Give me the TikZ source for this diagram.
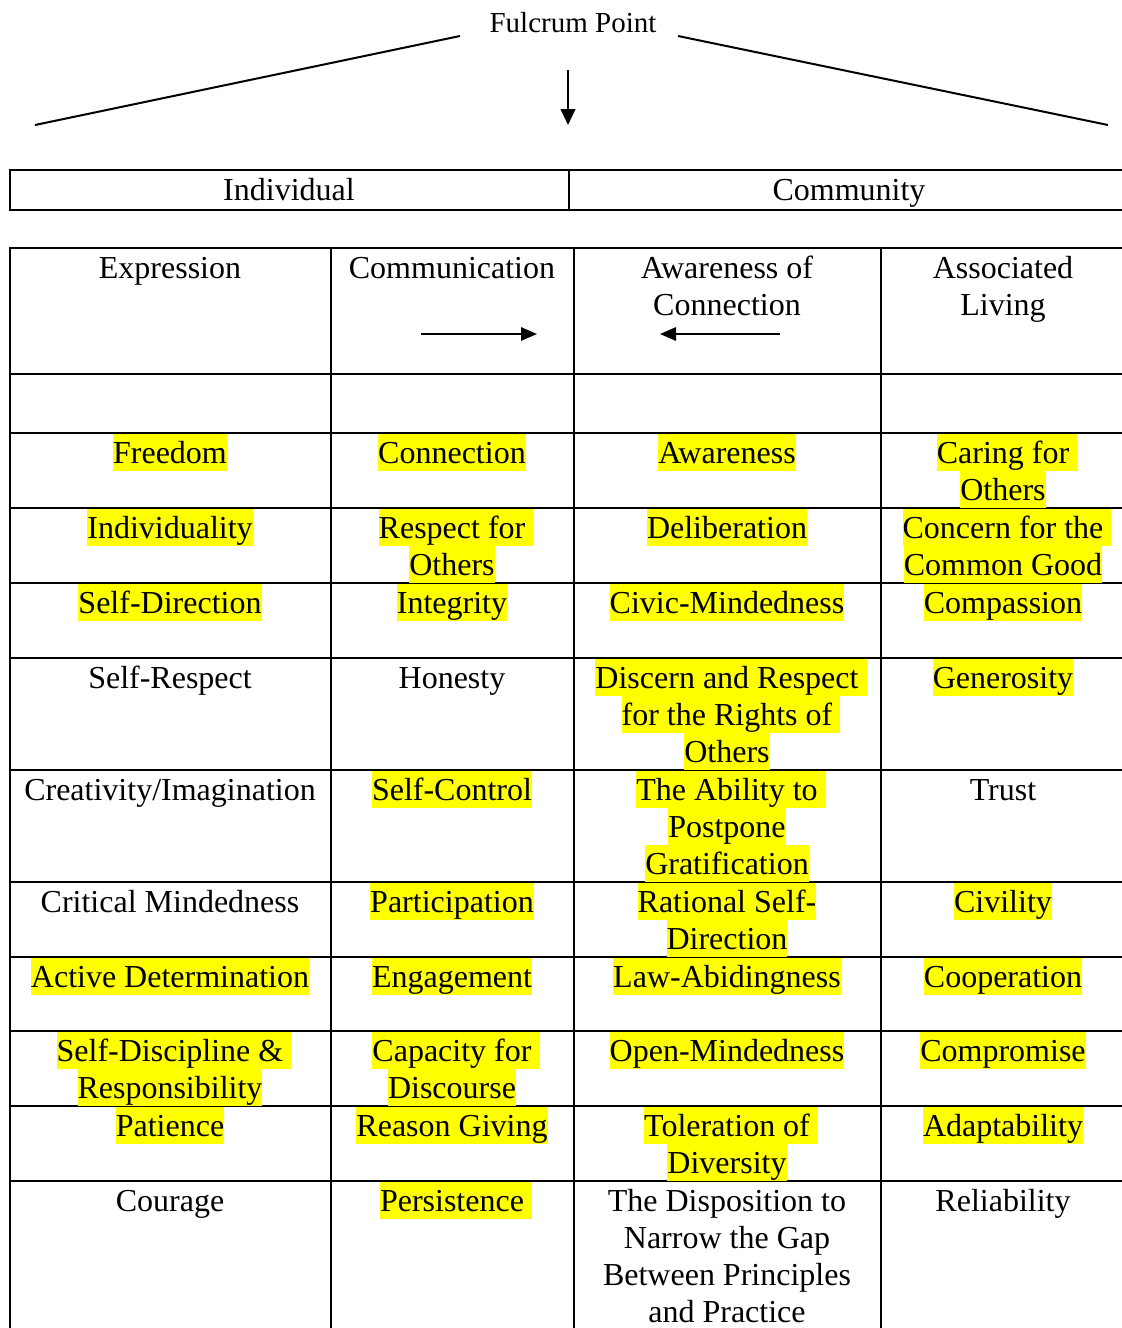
\documentclass[tikz,border=0pt]{standalone}
\usepackage{fontspec}
\setmainfont{Liberation Serif}
\usetikzlibrary{arrows.meta}
\definecolor{hlyellow}{RGB}{255,255,0}
% one text line: fixed ascent/descent so lines stack edge to edge
\newcommand\lnstrut{\rule[-6pt]{0pt}{27.75pt}}
\newcommand\hl[1]{{\setlength{\fboxsep}{0pt}\colorbox{hlyellow}{\lnstrut#1}}}
\newcommand\hlsp{\rlap{\setlength{\fboxsep}{0pt}\colorbox{hlyellow}{\lnstrut\ }}}
\newcommand\pl[1]{\lnstrut#1}
\tikzset{
  rule/.style={line width=1.5pt},
  cell/.style={anchor=north, inner sep=0pt, outer sep=0pt, align=center,
    font=\fontsize{24pt}{27.75pt}\selectfont},
  headtext/.style={anchor=base, inner sep=0pt, font=\fontsize{24pt}{27.75pt}\selectfont},
  tip/.style={-{Triangle[length=12pt,width=11pt]}},
  smalltip/.style={-{Triangle[length=12pt,width=10pt]}}
}
\begin{document}
\begin{tikzpicture}[x=0.75pt,y=-0.75pt]
\useasboundingbox (0,0) rectangle (1121,1328);

% ---- balance beam and fulcrum ----
\node[anchor=base, inner sep=0pt, font=\fontsize{21.75pt}{25pt}\selectfont] (fulcrum) at (573,32) {Fulcrum Point};
\coordinate (beamL1) at (35,125);
\coordinate (beamL2) at (460,36);
\coordinate (beamR1) at (678,36);
\coordinate (beamR2) at (1108,125);
\draw[rule] (beamL1) -- (beamL2);
\draw[rule] (beamR1) -- (beamR2);
\coordinate (pivotTop) at (568,70);
\coordinate (pivotTip) at (568,125);
\draw[rule, tip] (pivotTop) -- (pivotTip);

% ---- Individual / Community bar ----
\draw[rule] (1122,170) -- (10,170) -- (10,210) -- (1122,210);
\draw[rule] (569,170) -- (569,210);
\node[headtext] (individual) at (289,200) {Individual};
\node[headtext] (community) at (849,200) {Community};

% ---- main grid ----
\draw[rule] (1122,248) -- (10,248) -- (10,1330);
\foreach \x in {331,574,881} \draw[rule] (\x,248) -- (\x,1330);
\foreach \y in {374,433,508,583,658,770,882,957,1031,1106,1181} \draw[rule] (10,\y) -- (1122,\y);

% header row
\node[cell] (h1) at (170,249) {\pl{Expression}};
\node[cell] (h2) at (452,249) {\pl{Communication}};
\node[cell] (h3) at (727,249) {\pl{Awareness of}\\\pl{Connection}};
\node[cell] (h4) at (1003,249) {\pl{Associated}\\\pl{Living}};
\coordinate (toCommA) at (421,334);
\coordinate (toCommB) at (537,334);
\coordinate (toIndA) at (780,334);
\coordinate (toIndB) at (660,334);
\draw[rule, smalltip] (toCommA) -- (toCommB);
\draw[rule, smalltip] (toIndA) -- (toIndB);

% rows of qualities
\node[cell] (a1) at (170,434) {\hl{Freedom}};
\node[cell] (a2) at (452,434) {\hl{Connection}};
\node[cell] (a3) at (727,434) {\hl{Awareness}};
\node[cell] (a4) at (1003,434) {\hl{Caring for}\hlsp\\\hl{Others}};

\node[cell] (b1) at (170,509) {\hl{Individuality}};
\node[cell] (b2) at (452,509) {\hl{Respect for}\hlsp\\\hl{Others}};
\node[cell] (b3) at (727,509) {\hl{Deliberation}};
\node[cell] (b4) at (1003,509) {\hl{Concern for the}\hlsp\\\hl{Common Good}};

\node[cell] (c1) at (170,584) {\hl{Self-Direction}};
\node[cell] (c2) at (452,584) {\hl{Integrity}};
\node[cell] (c3) at (727,584) {\hl{Civic-Mindedness}};
\node[cell] (c4) at (1003,584) {\hl{Compassion}};

\node[cell] (d1) at (170,659) {\pl{Self-Respect}};
\node[cell] (d2) at (452,659) {\pl{Honesty}};
\node[cell] (d3) at (727,659) {\hl{Discern and Respect}\hlsp\\\hl{for the Rights of}\hlsp\\\hl{Others}};
\node[cell] (d4) at (1003,659) {\hl{Generosity}};

\node[cell] (e1) at (170,771) {\pl{Creativity/Imagination}};
\node[cell] (e2) at (452,771) {\hl{Self-Control}};
\node[cell] (e3) at (727,771) {\hl{The Ability to}\hlsp\\\hl{Postpone}\\\hl{Gratification}};
\node[cell] (e4) at (1003,771) {\pl{Trust}};

\node[cell] (f1) at (170,883) {\pl{Critical Mindedness}};
\node[cell] (f2) at (452,883) {\hl{Participation}};
\node[cell] (f3) at (727,883) {\hl{Rational Self-}\\\hl{Direction}};
\node[cell] (f4) at (1003,883) {\hl{Civility}};

\node[cell] (g1) at (170,958) {\hl{Active Determination}};
\node[cell] (g2) at (452,958) {\hl{Engagement}};
\node[cell] (g3) at (727,958) {\hl{Law-Abidingness}};
\node[cell] (g4) at (1003,958) {\hl{Cooperation}};

\node[cell] (i1) at (170,1032) {\hl{Self-Discipline \&}\hlsp\\\hl{Responsibility}};
\node[cell] (i2) at (452,1032) {\hl{Capacity for}\hlsp\\\hl{Discourse}};
\node[cell] (i3) at (727,1032) {\hl{Open-Mindedness}};
\node[cell] (i4) at (1003,1032) {\hl{Compromise}};

\node[cell] (j1) at (170,1107) {\hl{Patience}};
\node[cell] (j2) at (452,1107) {\hl{Reason Giving}};
\node[cell] (j3) at (727,1107) {\hl{Toleration of}\hlsp\\\hl{Diversity}};
\node[cell] (j4) at (1003,1107) {\hl{Adaptability}};

\node[cell] (k1) at (170,1182) {\pl{Courage}};
\node[cell] (k2) at (452,1182) {\hl{Persistence}\hlsp};
\node[cell] (k3) at (727,1182) {\pl{The Disposition to}\\\pl{Narrow the Gap}\\\pl{Between Principles}\\\pl{and Practice}};
\node[cell] (k4) at (1003,1182) {\pl{Reliability}};
\end{tikzpicture}
\end{document}
